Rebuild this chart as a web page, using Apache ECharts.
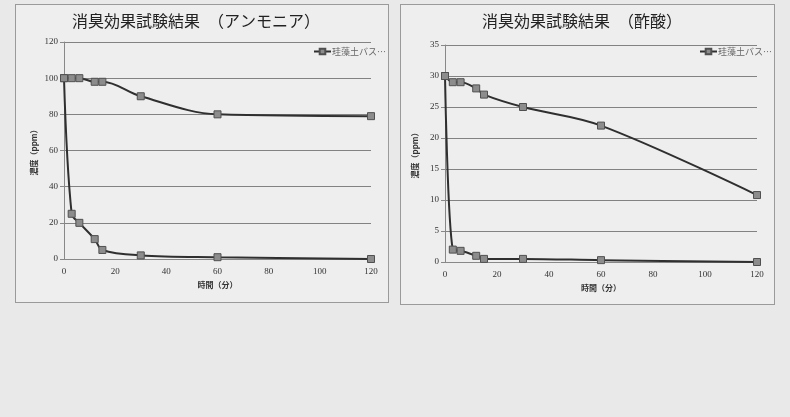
<!DOCTYPE html>
<html><head><meta charset="utf-8">
<script src="https://cdn.jsdelivr.net/npm/echarts@6/dist/echarts.min.js"></script>
<style>
html,body{margin:0;padding:0;background:#e9e9e9;}
#wrap{position:relative;width:790px;height:417px;overflow:hidden;}
.box{position:absolute;box-sizing:border-box;border:1.5px solid #9a9a9a;background:#eeeeee;}
#c{position:absolute;left:0;top:0;width:790px;height:417px;}
</style>
</head><body>
<div id="wrap">
<div class="box" style="left:15px;top:4px;width:374px;height:299px;"></div>
<div class="box" style="left:400px;top:4px;width:375px;height:301px;"></div>
<div id="c"></div>
</div>
<script>
const timeMinutes = [0, 3, 6, 12, 15, 30, 60, 120];
const ammoniaBathMat = [100, 100, 100, 98, 98, 90, 80, 79];
const ammoniaOther = [100, 25, 20, 11, 5, 2, 1, 0];
const aceticBathMat = [30, 29, 29, 28, 27, 25, 22, 10.8];
const aceticOther = [30, 2, 1.8, 1, 0.5, 0.5, 0.3, 0];
const chartTitles = ['消臭効果試験結果　（アンモニア）', '消臭効果試験結果　（酢酸）'];
const seriesNames = ['珪藻土バスマット', '系列2'];
const legendLabel = '珪藻土バス…';
const xAxisName = '時間（分）';
const yAxisName = '濃度（ppm）';

const pair = (xs, ys) => xs.map((x, i) => [x, ys[i]]);
const serif = '"Liberation Serif","DejaVu Serif","Noto Sans CJK JP",serif';
const jp = '"Noto Sans CJK JP",sans-serif';

const axisX = (gi) => ({
  type: 'value', gridIndex: gi, min: 0, max: 120, interval: 20,
  name: xAxisName, nameLocation: 'middle', nameGap: 22,
  nameTextStyle: {fontFamily: jp, fontSize: 8, color: '#333', fontWeight: 'bold'},
  axisLine: {show: true, lineStyle: {color: '#888', width: 1}},
  axisTick: {show: false},
  axisLabel: {fontFamily: serif, fontSize: 9, color: '#333', margin: 8},
  splitLine: {show: false}
});
const axisY = (gi, max, interval) => ({
  type: 'value', gridIndex: gi, min: 0, max: max, interval: interval,
  name: yAxisName, nameLocation: 'middle', nameGap: 26, nameRotate: 90,
  nameTextStyle: {fontFamily: jp, fontSize: 8, color: '#333', fontWeight: 'bold'},
  axisLine: {show: true, lineStyle: {color: '#888', width: 1}},
  axisTick: {show: true, length: 4, lineStyle: {color: '#888'}},
  axisLabel: {fontFamily: serif, fontSize: 9, color: '#333', margin: 6},
  splitLine: {show: true, lineStyle: {color: '#828282', width: 1.2}}
});
const lineSeries = (name, gi, data) => ({
  name: name, type: 'line', xAxisIndex: gi, yAxisIndex: gi,
  data: data, smooth: 0.35, symbol: 'rect', symbolSize: 7,
  lineStyle: {color: '#2f2f2f', width: 2},
  itemStyle: {color: '#8c8c8c', borderColor: '#505050', borderWidth: 1},
  emphasis: {disabled: true}
});
const legendCfg = (left) => ({
  left: left, top: 47, padding: 0, itemWidth: 17, itemHeight: 7, itemGap: 4,
  data: [seriesNames[0]],
  formatter: () => legendLabel,
  textStyle: {fontFamily: jp, fontSize: 9, color: '#666', padding: [0, 0, 0, -4]}
});

const chart = echarts.init(document.getElementById('c'));
chart.setOption({
  animation: false,
  title: [
    {text: chartTitles[0], left: 72, top: 13, padding: 0,
     textStyle: {fontFamily: jp, fontSize: 16, fontWeight: 'normal', color: '#222'}},
    {text: chartTitles[1], left: 482, top: 13, padding: 0,
     textStyle: {fontFamily: jp, fontSize: 16, fontWeight: 'normal', color: '#222'}}
  ],
  legend: [legendCfg(313), legendCfg(699)],
  grid: [
    {left: 64, top: 42, width: 307, height: 217},
    {left: 445, top: 45, width: 312, height: 217}
  ],
  xAxis: [axisX(0), axisX(1)],
  yAxis: [axisY(0, 120, 20), axisY(1, 35, 5)],
  series: [
    lineSeries(seriesNames[0], 0, pair(timeMinutes, ammoniaBathMat)),
    lineSeries(seriesNames[1], 0, pair(timeMinutes, ammoniaOther)),
    lineSeries(seriesNames[0], 1, pair(timeMinutes, aceticBathMat)),
    lineSeries(seriesNames[1], 1, pair(timeMinutes, aceticOther))
  ]
});
</script>
</body></html>
